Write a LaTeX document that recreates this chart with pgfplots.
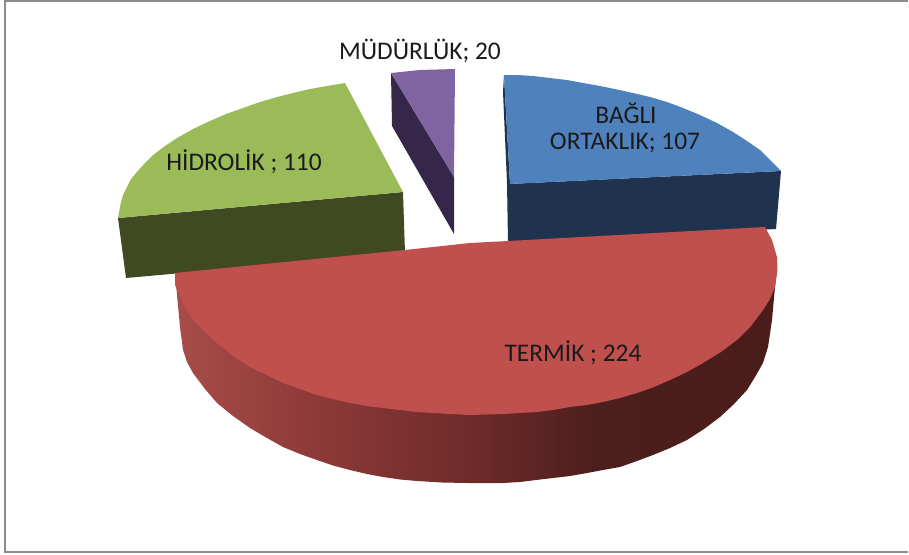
\documentclass[border=0pt]{standalone}
\usepackage{fontspec}
\setmainfont{Carlito}
\usepackage{pgfplots}
\pgfplotsset{compat=1.18}
\definecolor{bluetop}{HTML}{4F81BD}
\definecolor{blueside}{HTML}{1F334F}
\definecolor{redtop}{HTML}{C0504D}
\definecolor{greentop}{HTML}{9BBB59}
\definecolor{greenside}{HTML}{3F4A23}
\definecolor{purpletop}{HTML}{8064A2}
\definecolor{purpleside}{HTML}{35264A}
\definecolor{frameg}{HTML}{8C8C8C}
\definecolor{txt}{HTML}{1A1A1A}
\definecolor{rsa}{HTML}{A84C49}
\definecolor{rsb}{HTML}{8A3836}
\definecolor{rsc}{HTML}{6C2B29}
\definecolor{rsd}{HTML}{4C1E1C}
\definecolor{rse}{HTML}{4A1D1B}
\pgfdeclarehorizontalshading{redside}{100bp}{
 color(0bp)=(rsa); color(25bp)=(rsa); color(38bp)=(rsb);
 color(50bp)=(rsc); color(60bp)=(rsd); color(75bp)=(rse); color(100bp)=(rse)}
\begin{document}
\begin{tikzpicture}
\begin{axis}[
  scale only axis, width=909pt, height=554pt,
  xmin=0, xmax=909, ymin=0, ymax=554, y dir=reverse,
  axis lines=none, clip=true,
  every axis plot/.append style={mark=none}]
% frame
\addplot[frameg, line width=2.2pt] coordinates {(5,553) (5,1) (908,1)};
\addplot[frameg, line width=1.8pt] coordinates {(5,552) (908,552)};
% blue
\addplot[fill=blueside, draw=none] coordinates {(508,184) (781,171) (776,229) (508,243)} --cycle;
\addplot[fill=blueside, draw=none] coordinates {(504,75) (510,184) (510,243) (508,243) (507,183) (503,92)} --cycle;
\addplot[fill=bluetop, draw=none] coordinates {(510,184) (504,75) (518,75) (533,76) (550,78) (567,80) (583,83) (600,86) (617,89.5) (633,93) (650,97) (667,102) (683,108) (700,115) (717,123) (733,132) (747,141) (760,150) (770,160) (781,171)} --cycle;
% green
\addplot[fill=greenside, draw=none] coordinates {(118,218) (403,192) (405,253) (126,278)} --cycle;
\addplot[fill=greentop, draw=none] coordinates {(403,192) (345,83) (327,86) (310,89) (293,93) (277,97) (260,102) (243,108) (226,114) (210,121) (193,129) (177,138) (165,146) (153,155) (145,163) (137,172) (131,179) (127,187) (123,195) (121,202) (118,218)} --cycle;
% purple
\addplot[fill=purpleside, draw=none] coordinates {(391,73) (454,177) (454,234) (392,126)} --cycle;
\addplot[fill=purpletop, draw=none] coordinates {(391,73) (420,70) (455,69) (454,177)} --cycle;
% red side
\addplot[shading=redside, draw=none] coordinates {(777,270) (775,287) (772,320) (768,347) (763,363) (755,377) (747,390) (734,404) (720,417) (704,429) (687,440) (670,448) (653,455) (637,461) (620,467) (603,470) (587,473) (570,476) (553,478) (536,480) (520,482) (503,483) (487,483) (467,483) (442,482.5) (417,481) (400,479.5) (383,477) (367,474) (350,470) (333,465.5) (317,460) (300,454) (283,447) (267,438) (250,428) (233,416) (217,403) (205,389) (193,373) (187,362) (183,350) (180,327) (175,273)} --cycle;
% red top
\addplot[fill=redtop, draw=none] coordinates {(175,273) (405,250) (470,243) (508,241) (765,227) (772,240) (777,257) (777.5,270) (775,287) (770,299) (763,310) (751,326) (737,340) (721,352) (703,363) (687,372) (670,380) (654,387) (637,393) (620,398) (603,402) (587,405) (570,407) (553,410) (537,412) (520,413) (503,414) (470,415) (450,414) (433,413) (417,412) (400,410) (383,408) (367,406) (350,403) (333,399) (317,395) (300,389) (283,383) (267,375) (250,367) (233,356) (217,343) (205,332) (193,320) (186,309) (180,297) (175,285)} --cycle;
% labels
\node[txt, font=\fontsize{25.4}{30}\selectfont] at (axis cs:420,51) {MÜDÜRLÜK; 20};
\node[txt, font=\fontsize{25.4}{30}\selectfont] at (axis cs:244,162) {HİDROLİK ; 110};
\node[txt, font=\fontsize{25.4}{30}\selectfont] at (axis cs:626,113) {BAĞLI};
\node[txt, font=\fontsize{25.4}{30}\selectfont] at (axis cs:625,143) {ORTAKLIK; 107};
\node[txt, font=\fontsize{25.4}{30}\selectfont] at (axis cs:573,353) {TERMİK ; 224};
\end{axis}
\pgfresetboundingbox
\useasboundingbox (0,0) rectangle (909pt,554pt);
\end{tikzpicture}
\end{document}
